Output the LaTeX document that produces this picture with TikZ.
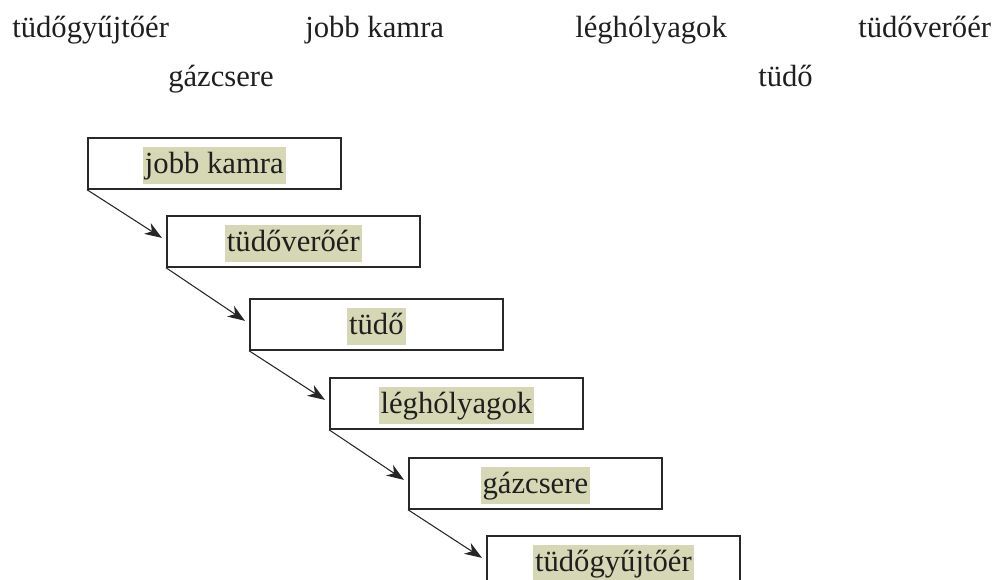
\documentclass[tikz,border=0pt]{standalone}
\usepackage{fontspec}
\setmainfont{Liberation Serif}
\usetikzlibrary{arrows.meta}
\definecolor{hl}{RGB}{214,215,180}
\definecolor{edge}{RGB}{40,40,40}
\tikzset{
  px/.style={x=0.75pt,y=-0.75pt},
  word/.style={anchor=base west,inner sep=0pt,font=\fontsize{23}{28}\selectfont,text=black!88},
  stepbox/.style={draw=edge,line width=1.3pt,anchor=north west,minimum width=189.75pt,minimum height=38.25pt,inner sep=0pt},
  hltext/.style={fill=hl,inner xsep=1.5pt,inner ysep=0pt,text height=20pt,text depth=7.5pt,font=\fontsize{23}{28}\selectfont,text=black!88},
  conn/.style={draw=black!85,line width=0.8pt,-{Stealth[length=13pt,width=9.5pt,inset=4pt]}}
}
\begin{document}
\begin{tikzpicture}[px]
\useasboundingbox (0,0) rectangle (997,580);
% word bank
\node[word] (w1) at (12,38) {tüdőgyűjtőér};
\node[word] (w2) at (305,38) {jobb kamra};
\node[word] (w3) at (575,38) {léghólyagok};
\node[word] (w4) at (858,38) {tüdőverőér};
\node[word] (w5) at (168,87) {gázcsere};
\node[word] (w6) at (758,87) {tüdő};
% boxes
\node[stepbox] (b1) at (87,137) {};
\node[stepbox] (b2) at (166,215) {};
\node[stepbox] (b3) at (249,298) {};
\node[stepbox] (b4) at (329,377) {};
\node[stepbox] (b5) at (408,457) {};
\node[stepbox] (b6) at (486,535) {};
\foreach \b/\t in {b1/jobb kamra,b2/tüdőverőér,b3/tüdő,b4/léghólyagok,b5/gázcsere,b6/tüdőgyűjtőér}
  \node[hltext] (\b t) at ([yshift=-1.5pt]\b.center) {\t};
% connectors
\foreach \a/\b in {b1/b2,b2/b3,b3/b4,b4/b5,b5/b6}
  \draw[conn] (\a.south west) -- ([xshift=-3pt,yshift=2.6pt]\b.west);
\end{tikzpicture}
\end{document}
